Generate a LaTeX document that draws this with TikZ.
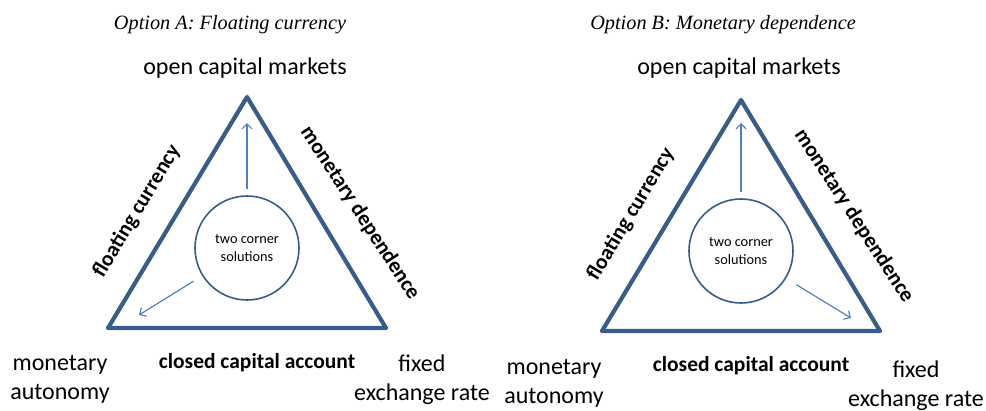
\documentclass[tikz,border=0pt]{standalone}
\usepackage{fontspec}
\setmainfont{Carlito}
\newfontfamily\capfont{Liberation Serif}
\usetikzlibrary{arrows.meta}
\usetikzlibrary{positioning}

\definecolor{triblue}{RGB}{56,93,138}
\definecolor{arrblue}{RGB}{79,129,189}

\begin{document}
\begin{tikzpicture}[x=1pt,y=-1pt,
    side/.style={draw=triblue, line width=4.2pt, line join=round},
    sol/.style={circle, draw=triblue, line width=1.6pt, minimum size=104pt, inner sep=0pt, align=center, font=\fontsize{14.3}{17.5}\selectfont},
    push/.style={draw=arrblue, line width=1.2pt, -{Straight Barb[length=5pt,width=10pt]}},
    tag/.style={align=center, font=\fontsize{24}{29}\selectfont},
    edgetag/.style={font=\bfseries\fontsize{21.5}{25}\selectfont},
    heading/.style={font=\capfont\itshape\fontsize{20.3}{24}\selectfont}]

    \useasboundingbox (0,0) rectangle (986,410);

    % option A
    \coordinate (top_a) at (247,97);
    \coordinate (left_a) at (108,328);
    \coordinate (right_a) at (386,328);
    \draw[side] (top_a) -- (left_a) -- (right_a) -- cycle;

    \node[sol] (sol_a) at (247,248) {two corner\\solutions};
    \coordinate (up_a) at (247,123);
    \coordinate (aut_a) at (139,315);
    \path[push]
    (sol_a) edge[shorten <=6pt] (up_a)
    (sol_a) edge[shorten <=10pt] (aut_a);

    \node[tag] (open_a) at (245,68) {open capital markets};
    \node[heading] (title_a) [above = 17pt of open_a, xshift=-15pt] {Option A: Floating currency};
    \node[edgetag, rotate=59] (float_a) at (137,211) {floating currency};
    \node[edgetag, rotate=-57] (dep_a) at (360,213) {monetary dependence};
    \node[edgetag] (closed_a) at (257,363) {closed capital account};
    \node[tag] (mon_a) at (60,379) {monetary\\autonomy};
    \node[tag] (fix_a) at (422,380) {fixed\\exchange rate};

    % option B
    \begin{scope}[shift={(494,3)}]
    \coordinate (top_b) at (247,97);
    \coordinate (left_b) at (108,328);
    \coordinate (right_b) at (386,328);
    \draw[side] (top_b) -- (left_b) -- (right_b) -- cycle;

    \node[sol] (sol_b) at (247,248) {two corner\\solutions};
    \coordinate (up_b) at (247,120);
    \coordinate (fix_b_tip) at (357,315);
    \path[push]
    (sol_b) edge[shorten <=6pt] (up_b)
    (sol_b) edge[shorten <=12pt] (fix_b_tip);

    \node[tag] (open_b) at (245,65) {open capital markets};
    \node[heading] (title_b) [above = 17pt of open_b, xshift=-16pt] {Option B: Monetary dependence};
    \node[edgetag, rotate=59] (float_b) at (137,211) {floating currency};
    \node[edgetag, rotate=-57] (dep_b) at (360,213) {monetary dependence};
    \node[edgetag] (closed_b) at (257,363) {closed capital account};
    \node[tag] (mon_b) at (60,380) {monetary\\autonomy};
    \node[tag] (fix_b) at (422,383) {fixed\\exchange rate};
    \end{scope}

\end{tikzpicture}
\end{document}
